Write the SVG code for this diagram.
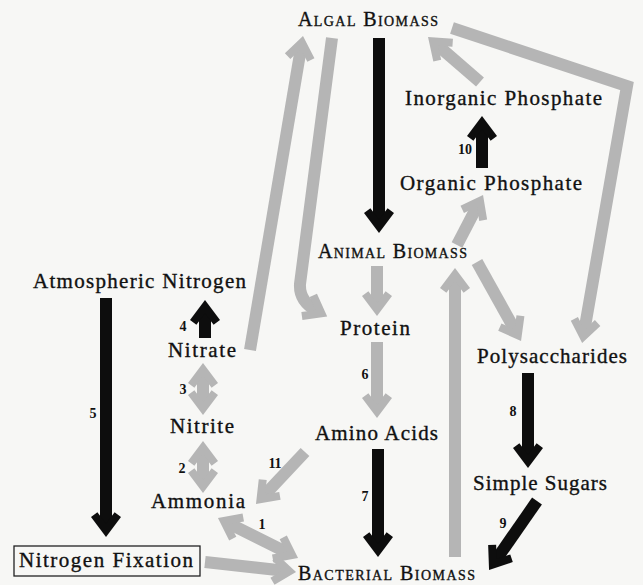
<svg xmlns="http://www.w3.org/2000/svg" width="643" height="585" viewBox="0 0 643 585">
<style>
.t{font-family:"Liberation Serif","Times New Roman",serif;font-size:21px;fill:#111;stroke:#111;stroke-width:0.35}
.sc{font-family:"Liberation Serif","Times New Roman",serif;font-size:20px;font-variant:small-caps;fill:#111;stroke:#111;stroke-width:0.35}
.n{font-family:"Liberation Serif","Times New Roman",serif;font-size:14px;font-weight:bold;fill:#111;text-anchor:middle}
.k{fill:none;stroke:#0d0d0d;stroke-width:12;marker-end:url(#hk)}
.g{fill:none;stroke:#b5b5b5;stroke-width:12;marker-end:url(#hg)}
.gg{fill:none;stroke:#b5b5b5;stroke-width:12;marker-start:url(#hg);marker-end:url(#hg)}
</style>
<defs>
<marker id="hk" viewBox="-26 -16 28 32" refX="-12" refY="0" markerWidth="28" markerHeight="32" markerUnits="userSpaceOnUse" orient="auto-start-reverse"><path d="M0,0 L-20,-15 L-24.8,-8.6 L-13.3,0 L-24.8,8.6 L-20,15 Z" fill="#0d0d0d"/></marker>
<marker id="hg" viewBox="-26 -16 28 32" refX="-12" refY="0" markerWidth="28" markerHeight="32" markerUnits="userSpaceOnUse" orient="auto-start-reverse"><path d="M0,0 L-20,-15 L-24.8,-8.6 L-13.3,0 L-24.8,8.6 L-20,15 Z" fill="#b5b5b5"/></marker>
</defs>
<rect width="643" height="585" fill="#f7f7f5"/>
<g id="connectors">
<path class="k" d="M379,38 L379,221"/>
<path class="k" d="M482,168 L482,128"/>
<path class="k" d="M205,338 L205,312"/>
<path class="k" d="M106,298 L106,525"/>
<path class="k" d="M378,449 L378,545"/>
<path class="k" d="M528,373 L528,456"/>
<path class="k" d="M537,501 L495.9,560.1"/>
<path class="g" d="M250,350 L301,47.8"/>
<path class="g" d="M332,38 L300,284 Q299,301 316.7,310.8"/>
<path class="g" d="M480,82 L437.1,44.9"/>
<path class="g" stroke-linejoin="miter" d="M452,28 L627,86 L584.2,331.2"/>
<path class="g" d="M457,245 L477.5,205.6"/>
<path class="g" d="M477,262 L515.2,330.5"/>
<path class="g" d="M377,266 L377,304"/>
<path class="g" d="M377,342 L377,406"/>
<path class="gg" d="M203,375 L203,403"/>
<path class="gg" d="M203,453 L203,481"/>
<path class="g" d="M305,452 L264.2,495.3"/>
<path class="gg" d="M228.7,523.4 L287.3,552.6"/>
<path class="g" d="M205,562 L284.1,570.7"/>
<path class="g" d="M455,557 L455,280"/>
</g>
<g id="edge-labels">
<text class="n" x="465" y="154">10</text>
<text class="n" x="183" y="331">4</text>
<text class="n" x="183" y="394">3</text>
<text class="n" x="93" y="418">5</text>
<text class="n" x="182" y="473">2</text>
<text class="n" x="275" y="468">11</text>
<text class="n" x="365" y="379">6</text>
<text class="n" x="262" y="529">1</text>
<text class="n" x="365" y="501">7</text>
<text class="n" x="513" y="416">8</text>
<text class="n" x="503" y="528">9</text>
</g>
<g id="algal-biomass"><text class="sc" x="298" y="26" textLength="140">Algal Biomass</text></g>
<g id="inorganic-phosphate"><text class="t" x="405" y="105" textLength="197">Inorganic Phosphate</text></g>
<g id="organic-phosphate"><text class="t" x="400" y="190" textLength="182">Organic Phosphate</text></g>
<g id="animal-biomass"><text class="sc" x="318" y="258" textLength="149">Animal Biomass</text></g>
<g id="atmospheric-nitrogen"><text class="t" x="33" y="288" textLength="213">Atmospheric Nitrogen</text></g>
<g id="protein"><text class="t" x="340" y="335" textLength="70">Protein</text></g>
<g id="nitrate"><text class="t" x="168" y="357" textLength="68">Nitrate</text></g>
<g id="polysaccharides"><text class="t" x="477" y="363" textLength="150">Polysaccharides</text></g>
<g id="nitrite"><text class="t" x="170" y="433" textLength="64">Nitrite</text></g>
<g id="amino-acids"><text class="t" x="315" y="440" textLength="123">Amino Acids</text></g>
<g id="ammonia"><text class="t" x="151" y="508" textLength="94">Ammonia</text></g>
<g id="simple-sugars"><text class="t" x="473" y="490" textLength="134">Simple Sugars</text></g>
<g id="nitrogen-fixation"><rect x="14" y="546" width="186" height="30" fill="none" stroke="#222" stroke-width="1.3"/><text class="t" x="19" y="567" textLength="174">Nitrogen Fixation</text></g>
<g id="bacterial-biomass"><text class="sc" x="298" y="580" textLength="177">Bacterial Biomass</text></g>
</svg>
